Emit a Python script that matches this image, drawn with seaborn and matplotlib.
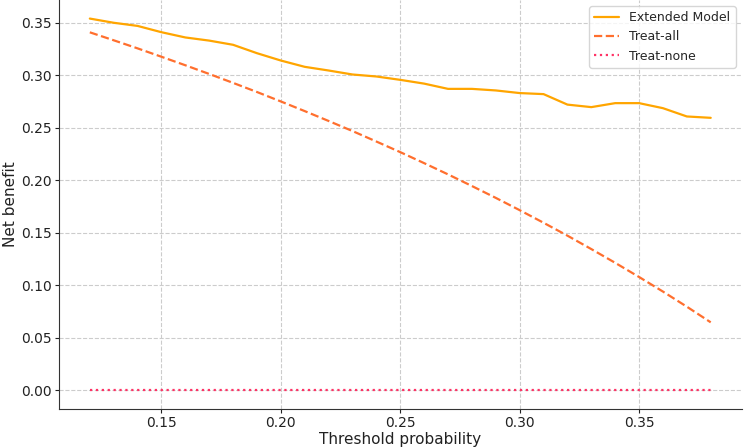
import pandas as pd
import matplotlib
matplotlib.use("Agg")
import matplotlib.pyplot as plt
import seaborn as sns

# decision curve values
thresholds = [0.12, 0.13, 0.14, 0.15, 0.16, 0.17, 0.18, 0.19, 0.20, 0.21, 0.22, 0.23, 0.24,
              0.25, 0.26, 0.27, 0.28, 0.29, 0.30, 0.31, 0.32, 0.33, 0.34, 0.35, 0.36, 0.37, 0.38]
extended_model = [0.354, 0.350, 0.347, 0.341, 0.336, 0.333, 0.329, 0.321, 0.314, 0.308, 0.3045,
                  0.3007, 0.2988, 0.2956, 0.292, 0.287, 0.287, 0.2855, 0.283, 0.282, 0.272,
                  0.2696, 0.2734, 0.2734, 0.2686, 0.2607, 0.2594]
treat_all = [0.3409, 0.3333, 0.3256, 0.3176, 0.3095, 0.3012, 0.2927, 0.2840, 0.2750, 0.2658,
             0.2564, 0.2468, 0.2368, 0.2267, 0.2162, 0.2055, 0.1944, 0.1831, 0.1714, 0.1594,
             0.1471, 0.1343, 0.1212, 0.1077, 0.0938, 0.0794, 0.0645]
treat_none = [0.0] * len(thresholds)

df = pd.DataFrame({
    "threshold": thresholds,
    "Extended Model": extended_model,
    "Treat-all": treat_all,
    "Treat-none": treat_none,
})

sns.set_style("ticks")
plt.rcParams["font.family"] = ["DejaVu Sans"]

fig, ax = plt.subplots(figsize=(7.44, 4.48), dpi=100)
fig.subplots_adjust(left=0.079, right=0.997, bottom=0.088, top=1.0)

sns.lineplot(data=df, x="threshold", y="Extended Model", ax=ax,
             color="#ffa500", linewidth=1.6, label="Extended Model")
sns.lineplot(data=df, x="threshold", y="Treat-all", ax=ax,
             color="#ff6f2e", linewidth=1.6, linestyle="--", label="Treat-all")
sns.lineplot(data=df, x="threshold", y="Treat-none", ax=ax,
             color="#ff3366", linewidth=1.6, linestyle=":", label="Treat-none")

ax.grid(True, linestyle="--", color="#cccccc", linewidth=0.8)
ax.set_axisbelow(True)
sns.despine(ax=ax)
for s in ["left", "bottom"]:
    ax.spines[s].set_color("#333333")

ax.set_xticks([0.15, 0.20, 0.25, 0.30, 0.35])
ax.set_yticks([0.0, 0.05, 0.10, 0.15, 0.20, 0.25, 0.30, 0.35])
ax.tick_params(labelsize=10, colors="#222222", length=3, pad=2)

ax.set_xlabel("Threshold probability", fontsize=11, color="#222222", labelpad=2)
ax.set_ylabel("Net benefit", fontsize=11, color="#222222", labelpad=2)

leg = ax.legend(loc="upper right", fontsize=9, frameon=True)
leg.get_frame().set_edgecolor("#cccccc")

plt.savefig("out.png", dpi=100)
plt.close()
